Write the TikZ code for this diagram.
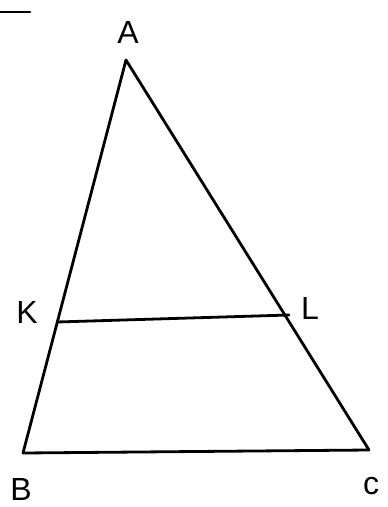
\documentclass[tikz,border=0pt]{standalone}
\usepackage{fontspec}
\setmainfont{Liberation Sans}
\usetikzlibrary{positioning}

\tikzset{
  side/.style={line width=2.8pt, line cap=round, line join=round},
  vlabel/.style={inner sep=0pt, font=\fontsize{32}{32}\selectfont}
}

\begin{document}
\begin{tikzpicture}[x=1pt, y=-1pt]
\useasboundingbox (0,0) rectangle (388,507);
% corners
\coordinate (A) at (126,60);
\coordinate (B) at (23,453);
\coordinate (C) at (369,450);
\coordinate (K) at (57,322);
\coordinate (L) at (289,315);
\coordinate (m1) at (0,12);
\coordinate (m2) at (30,12);
% triangle and the line KL
\draw[side] (A) -- (B) -- (C) -- cycle;
\draw[side] (K) -- (L);
\draw[side] (m1) -- (m2);
% letters
\node[vlabel] (lA) at (128,32) {A};
\node[vlabel] (lK) at (27,312) {K};
\node[vlabel] (lL) at (310,308) {L};
\node[vlabel] (lB) at (21,489) {B};
\node[vlabel] (lC) at (371,486) {c};
\end{tikzpicture}
\end{document}
